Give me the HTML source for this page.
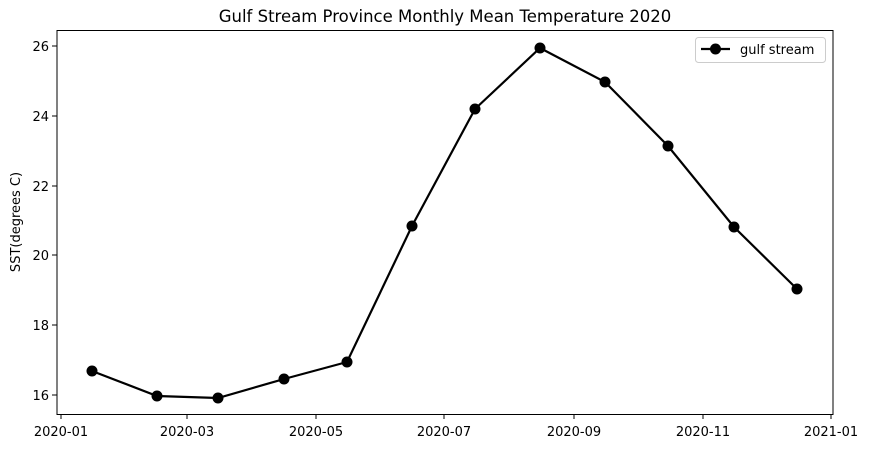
<!DOCTYPE html>
<html><head><style>body{margin:0;background:#fff}</style></head><body>
<svg width="869" height="449" xmlns="http://www.w3.org/2000/svg" font-family="'DejaVu Sans', 'Liberation Sans', sans-serif" font-size="13">
<rect width="869" height="449" fill="#fff"/>
<text x="445" y="22" text-anchor="middle" font-size="16.5">Gulf Stream Province Monthly Mean Temperature 2020</text>
<g stroke="#000" stroke-width="1">
<line x1="57" y1="46" x2="52" y2="46"/><line x1="57" y1="116" x2="52" y2="116"/><line x1="57" y1="186" x2="52" y2="186"/><line x1="57" y1="255" x2="52" y2="255"/><line x1="57" y1="325" x2="52" y2="325"/><line x1="57" y1="395" x2="52" y2="395"/>
<line x1="61" y1="414" x2="61" y2="419"/><line x1="187" y1="414" x2="187" y2="419"/><line x1="316" y1="414" x2="316" y2="419"/><line x1="444" y1="414" x2="444" y2="419"/><line x1="574" y1="414" x2="574" y2="419"/><line x1="703" y1="414" x2="703" y2="419"/><line x1="831" y1="414" x2="831" y2="419"/>
</g>
<g text-anchor="end">
<text x="49" y="51">26</text><text x="49" y="121">24</text><text x="49" y="191">22</text><text x="49" y="260">20</text><text x="49" y="330">18</text><text x="49" y="400">16</text>
</g>
<g text-anchor="middle">
<text x="61" y="436">2020-01</text><text x="187" y="436">2020-03</text><text x="316" y="436">2020-05</text><text x="444" y="436">2020-07</text><text x="574" y="436">2020-09</text><text x="703" y="436">2020-11</text><text x="831" y="436">2021-01</text>
</g>
<text transform="translate(20,222) rotate(-90)" text-anchor="middle">SST(degrees C)</text>
<polyline fill="none" stroke="#000" stroke-width="2.2" points="92,371 157,396 218,398 284,379 347,362 412,226 475,109 540,48 605,82 668,146 734,227 797,289"/>
<g fill="#000">
<circle cx="92" cy="371" r="5.5"/><circle cx="157" cy="396" r="5.5"/><circle cx="218" cy="398" r="5.5"/><circle cx="284" cy="379" r="5.5"/><circle cx="347" cy="362" r="5.5"/><circle cx="412" cy="226" r="5.5"/><circle cx="475" cy="109" r="5.5"/><circle cx="540" cy="48" r="5.5"/><circle cx="605" cy="82" r="5.5"/><circle cx="668" cy="146" r="5.5"/><circle cx="734" cy="227" r="5.5"/><circle cx="797" cy="289" r="5.5"/>
</g>
<rect x="57" y="30.5" width="776" height="384" fill="none" stroke="#000" stroke-width="1"/>
<rect x="695.5" y="37.5" width="130" height="25" rx="3" fill="#fff" stroke="#ccc"/>
<line x1="701" y1="49" x2="730" y2="49" stroke="#000" stroke-width="2.2"/>
<circle cx="715.5" cy="49" r="5.5" fill="#000"/>
<text x="740" y="54">gulf stream</text>
</svg>
</body></html>
